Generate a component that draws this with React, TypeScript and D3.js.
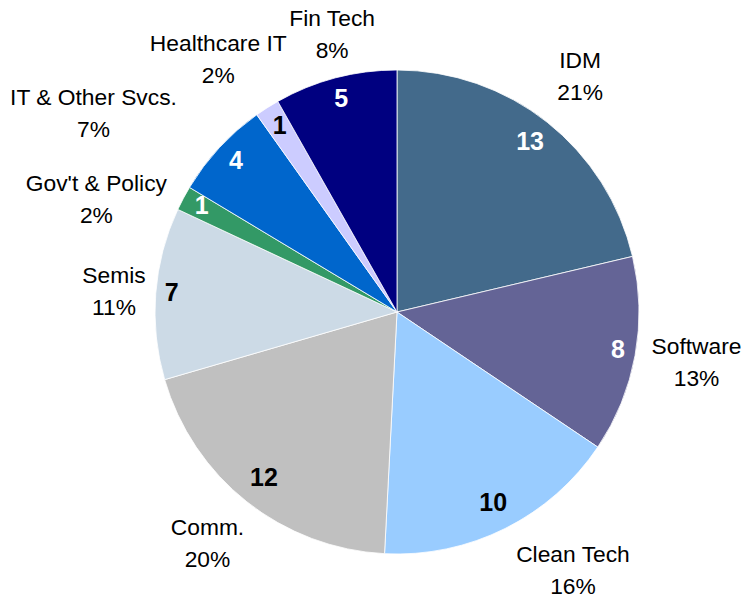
import React, { useEffect, useRef } from "react";
import * as d3 from "d3";

const categories = ["IDM", "Software", "Clean Tech", "Comm.", "Semis", "Gov't & Policy", "IT & Other Svcs.", "Healthcare IT", "Fin Tech"];
const values = [13, 8, 10, 12, 7, 1, 4, 1, 5];
const colors = ["#436A8B", "#646496", "#99CCFF", "#C0C0C0", "#CCDAE6", "#339966", "#0066CC", "#CCCCFF", "#000080"];
const valueTextColors = ["#fff", "#fff", "#000", "#000", "#000", "#fff", "#fff", "#000", "#fff"];

// label placement nudges (px) for outside labels
const labelNudge: Record<string, [number, number]> = {
  "IDM": [2, -7],
  "Software": [0, -5],
  "Clean Tech": [39, -16],
  "Comm.": [-3, -5],
  "Semis": [5, 1],
  "Gov't & Policy": [-8, 43],
  "IT & Other Svcs.": [-57, 29],
  "Healthcare IT": [-9, 14],
  "Fin Tech": [10, 6],
};

const W = 753, H = 600;
const CX = 397, CY = 312, R = 242;
const R_IN = 234, R_OUT = 255;

export default function App() {
  const ref = useRef<SVGSVGElement>(null);
  useEffect(() => {
    const svg = d3.select(ref.current);
    svg.selectAll("*").remove();
    const g = svg.append("g").attr("transform", `translate(${CX},${CY})`);
    const data = categories.map((c, i) => ({ c, v: values[i], i }));
    const total = d3.sum(values);
    const pie = d3.pie<any>().sort(null).value((d) => d.v).startAngle(0).endAngle(2 * Math.PI);
    const arcs = pie(data);
    const arc = d3.arc<any>().innerRadius(0).outerRadius(R);
    g.selectAll("path.slice").data(arcs).enter().append("path")
      .attr("class", "slice")
      .attr("d", arc as any)
      .attr("fill", (d: any) => colors[d.data.i])
      .attr("stroke", "#fff").attr("stroke-width", 0.8);

    const font = "Liberation Sans, Arial, sans-serif";
    // value labels (inside end)
    arcs.forEach((a: any) => {
      const mid = (a.startAngle + a.endAngle) / 2;
      const s = Math.sin(mid), c = Math.cos(mid);
      const t = g.append("text")
        .attr("font-family", font).attr("font-weight", "bold").attr("font-size", 25)
        .attr("fill", valueTextColors[a.data.i])
        .attr("text-anchor", "middle")
        .text(String(a.data.v));
      const bb = (t.node() as SVGTextElement).getBBox();
      const ext = Math.abs(s) * bb.width / 2 + Math.abs(c) * bb.height / 2;
      const d = R_IN - ext;
      const x = d * s, y = -d * c;
      t.attr("x", x).attr("y", y + 6);
    });

    // category labels (outside)
    arcs.forEach((a: any) => {
      const mid = (a.startAngle + a.endAngle) / 2;
      const s = Math.sin(mid), c = Math.cos(mid);
      const lg = g.append("g");
      const pct = Math.round((a.data.v / total) * 100) + "%";
      const t = lg.append("text")
        .attr("font-family", font).attr("font-size", 22.8).attr("fill", "#000")
        .attr("text-anchor", "middle");
      t.append("tspan").attr("x", 0).attr("y", 0).text(a.data.c);
      t.append("tspan").attr("x", 0).attr("y", 32).text(pct);
      const bb = (lg.node() as SVGGElement).getBBox();
      const ext = Math.abs(s) * bb.width / 2 + Math.abs(c) * bb.height / 2;
      const d = R_OUT + ext;
      const nd = labelNudge[a.data.c] || [0, 0];
      const x = d * s + nd[0], y = -d * c + nd[1];
      const bcx = bb.x + bb.width / 2, bcy = bb.y + bb.height / 2;
      lg.attr("transform", `translate(${x - bcx},${y - bcy})`);
    });
  }, []);
  return (
    <svg ref={ref} width={W} height={H}
      style={{ position: "absolute", left: 0, top: 0, background: "#fff" }} />
  );
}
